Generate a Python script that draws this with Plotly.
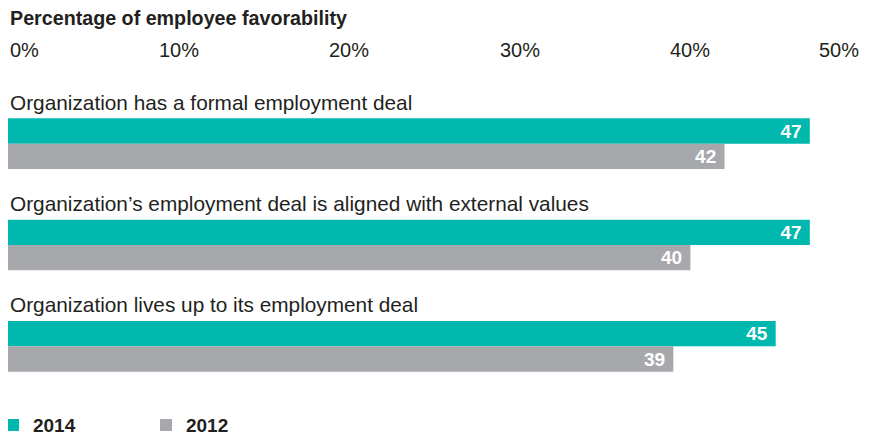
import plotly.graph_objects as go

categories = [
    "Organization has a formal employment deal",
    "Organization’s employment deal is aligned with external values",
    "Organization lives up to its employment deal",
]
values_2014 = [47, 47, 45]
values_2012 = [42, 40, 39]
tick_values = [0, 10, 20, 30, 40, 50]
tick_labels = ["0%", "10%", "20%", "30%", "40%", "50%"]
subtitle = "Percentage of employee favorability"

TEAL = "#00B8AE"
GRAY = "#A7A8AC"
INK = "#231f20"
FONT = "Liberation Sans, Arial, sans-serif"

fig = go.Figure()
for name, vals, col in [("2014", values_2014, TEAL), ("2012", values_2012, GRAY)]:
    fig.add_trace(go.Bar(
        y=categories, x=vals, name=name, orientation="h",
        marker=dict(color=col, line=dict(width=0)),
        text=[str(v) for v in vals],
        texttemplate="<b>%{text}</b>&nbsp;",
        textposition="inside", insidetextanchor="end", constraintext="none",
        textfont=dict(color="white", size=19, family=FONT),
        hoverinfo="skip",
    ))

annotations = []
for v, lab in zip(tick_values, tick_labels):
    anchor = "left" if v == tick_values[0] else ("right" if v == tick_values[-1] else "center")
    annotations.append(dict(x=v, xref="x", y=1.141, yref="paper", text=lab,
                            showarrow=False, xanchor=anchor, yanchor="middle",
                            font=dict(size=20, color=INK, family=FONT)))
for i, c in enumerate(categories):
    annotations.append(dict(x=0, xref="x", y=i - 0.41, yref="y", text=c,
                            showarrow=False, xanchor="left", yanchor="middle",
                            font=dict(size=20.8, color=INK, family=FONT)))
annotations.append(dict(x=0, xref="paper", y=1.247, yref="paper", text="<b>" + subtitle + "</b>",
                        showarrow=False, xanchor="left", yanchor="middle",
                        font=dict(size=19.7, color=INK, family=FONT)))

fig.update_layout(
    width=872, height=427,
    margin=dict(l=0, r=19, t=85, b=38, autoexpand=False),
    paper_bgcolor="white", plot_bgcolor="white",
    barmode="group", bargap=0.5, bargroupgap=0,
    xaxis=dict(range=[0, 50], showgrid=False, showticklabels=False, zeroline=False,
               showline=False, ticks=""),
    yaxis=dict(range=[2.5, -0.5], showticklabels=False, showgrid=False,
               zeroline=False, showline=False, ticks="",
               categoryorder="array", categoryarray=categories),
    showlegend=True,
    legend=dict(orientation="h", x=-0.0176, xanchor="left", y=-0.03, yanchor="top",
                font=dict(size=19, color=INK, family=FONT, weight="bold"),
                entrywidth=108, entrywidthmode="pixels", itemwidth=30,
                bgcolor="rgba(0,0,0,0)"),
    annotations=annotations,
)

fig.write_html("out.html")
